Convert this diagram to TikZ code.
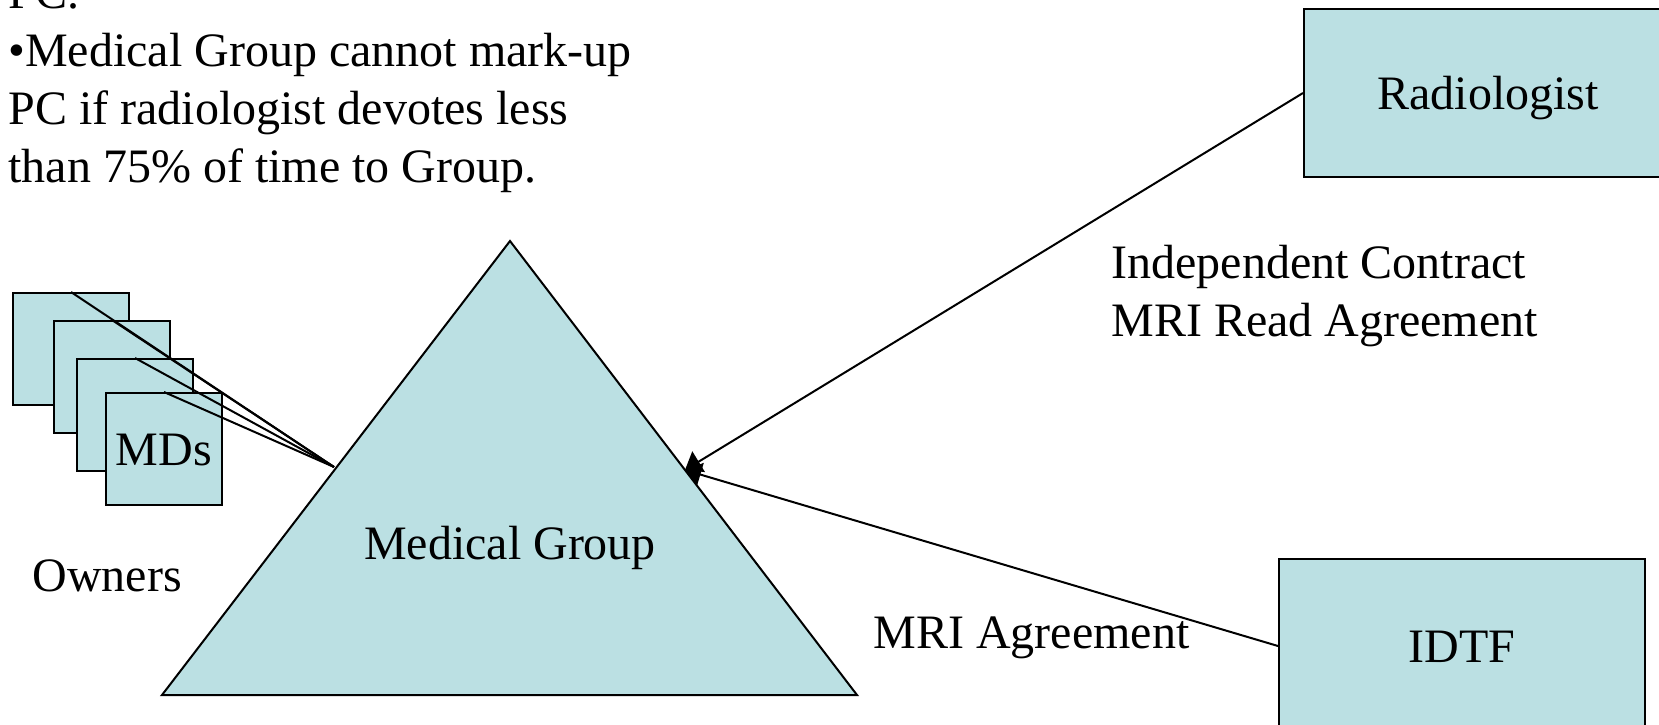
\documentclass[tikz,border=0pt]{standalone}
\usepackage{fontspec}
\setmainfont{Liberation Serif}
\usetikzlibrary{arrows.meta}
\definecolor{boxfill}{RGB}{187,224,227}
\begin{document}
\begin{tikzpicture}[x=0.5pt,y=-0.5pt,
  txt/.style={inner sep=0pt, font=\fontsize{24}{29}\selectfont},
  card/.style={draw=black, fill=boxfill, line width=1pt, inner sep=0pt,
    font=\fontsize{24}{29}\selectfont, text height=16pt, text depth=0pt},
  mdcard/.style={card, minimum width=58pt, minimum height=56pt},
  link/.style={line width=1pt},
  tip/.style={-{Triangle[length=8pt,width=12pt]}}
]
\useasboundingbox (0,0) rectangle (1659,724);
\clip (0,0) rectangle (1659,724);

% explanatory note, top left
\node[txt, anchor=base west] (note0) at (8,8)   {PC.};
\node[txt, anchor=base west] (note1) at (8,66)  {•Medical Group cannot mark-up};
\node[txt, anchor=base west] (note2) at (8,124) {PC if radiologist devotes less};
\node[txt, anchor=base west] (note3) at (8,182) {than 75\% of time to Group.};

% the medical group triangle
\coordinate (apex) at (510,241);
\coordinate (baseR) at (857,695);
\coordinate (baseL) at (162,695);
\draw[fill=boxfill, line width=1pt] (apex) -- (baseR) -- (baseL) -- cycle;
\node[txt, anchor=base] (mg) at (510,559) {Medical Group};
\coordinate (mgL) at (334,467);
\coordinate (mgR) at (685,470);

% stacked owner cards
\node[mdcard] (md1) at (71,349) {};
\node[mdcard] (md2) at (112,377) {};
\node[mdcard] (md3) at (135,415) {};
\node[mdcard] (md4) at (164,449) {MDs};
\foreach \m in {md1,md2,md3,md4}
  \draw[link] (\m.north) -- (mgL);
\node[txt, anchor=base west] (owners) at (32,591) {Owners};

% contracting parties
\node[card, minimum width=184pt, minimum height=84pt] (rad) at (1488,93) {Radiologist};
\node[card, minimum width=183pt, minimum height=87pt] (idtf) at (1462,646) {IDTF};
\draw[link,tip] (rad.west) -- (mgR);
\draw[link,tip] (idtf.west) -- (mgR);

\node[txt, anchor=base west] (ica1) at (1111,278) {Independent Contract};
\node[txt, anchor=base west] (ica2) at (1111,336) {MRI Read Agreement};
\node[txt, anchor=base west] (mria) at (873,648) {MRI Agreement};
\end{tikzpicture}
\end{document}
